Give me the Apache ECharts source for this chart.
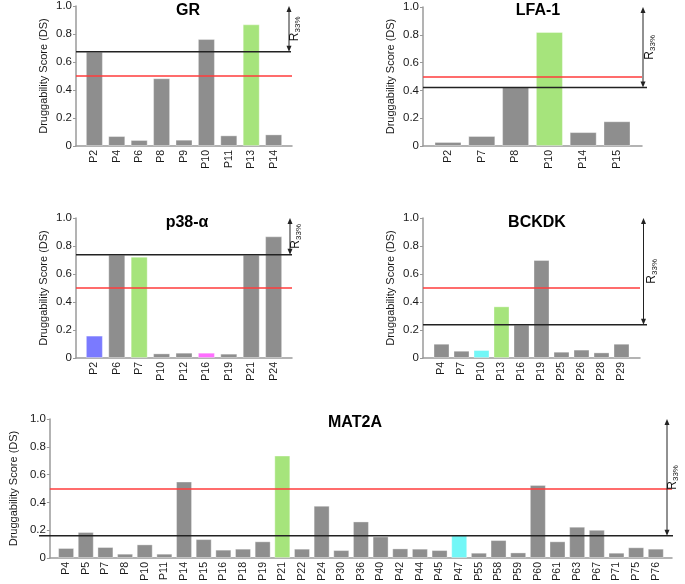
<!DOCTYPE html>
<html>
<head>
<meta charset="utf-8">
<script src="https://cdn.jsdelivr.net/npm/echarts@6/dist/echarts.min.js"></script>
<style>
html,body{margin:0;padding:0;background:#fff;}
#chart{width:685px;height:584px;}
</style>
</head>
<body>
<div id="chart"></div>
<script>
// ---------- data ----------
const grCats = ['P2','P4','P6','P8','P9','P10','P11','P13','P14'];
const grVals = [0.674,0.071,0.043,0.484,0.045,0.764,0.076,0.869,0.083];
const grR33 = 0.674;

const lfaCats = ['P2','P7','P8','P10','P14','P15'];
const lfaVals = [0.029,0.072,0.424,0.82,0.10,0.178];
const lfaR33 = 0.42;

const p38Cats = ['P2','P6','P7','P10','P12','P16','P19','P21','P24'];
const p38Vals = [0.16,0.738,0.724,0.033,0.038,0.038,0.031,0.738,0.869];
const p38R33 = 0.738;

const bckCats = ['P4','P7','P10','P13','P16','P19','P25','P26','P28','P29'];
const bckVals = [0.102,0.052,0.057,0.369,0.238,0.70,0.045,0.06,0.04,0.102];
const bckR33 = 0.238;

const matCats = ['P4','P5','P7','P8','P10','P11','P14','P15','P16','P18','P19','P21','P22','P24','P30',
  'P36','P40','P42','P44','P45','P47','P55','P58','P59','P60','P61','P63','P67','P71','P75','P76'];
const matVals = [0.072,0.187,0.079,0.031,0.098,0.031,0.55,0.136,0.06,0.067,0.12,0.737,0.067,0.376,0.057,
  0.263,0.155,0.069,0.067,0.057,0.167,0.038,0.129,0.04,0.526,0.12,0.225,0.203,0.038,0.077,0.067];
const matR33 = 0.16;

const yTicks = [0, 0.2, 0.4, 0.6, 0.8, 1.0];
const druggableThreshold = 0.5;

// ---------- styles / layout ----------
const COLORS = {grey:'#8e8e8e', green:'#a6e47c', blue:'#7a7aff', magenta:'#ff6eff', cyan:'#72f7f7'};
const highlight = {
  GR: {P13:'green'},
  LFA: {P10:'green'},
  P38: {P2:'blue', P7:'green', P16:'magenta'},
  BCK: {P10:'cyan', P13:'green'},
  MAT: {P21:'green', P47:'cyan'}
};
const FONT = "'Liberation Sans', Arial, sans-serif";

const panels = [
  {key:'GR',  title:'GR',     cats:grCats,  vals:grVals,  r33:grR33,  g:{left:76, top:6,   width:216, height:140}, pad:0.32, bw:0.76, tx:183, ty:-2,  arrowDx:-3, lineExt:-1, textDx:6},
  {key:'LFA', title:'LFA-1',  cats:lfaCats, vals:lfaVals, r33:lfaR33, g:{left:423,top:7,   width:219, height:139}, pad:0.24, bw:0.80, tx:533, ty:-2,  arrowDx:1,  lineExt:5,  textDx:7},
  {key:'P38', title:'p38-α',  cats:p38Cats, vals:p38Vals, r33:p38R33, g:{left:76, top:218, width:216, height:140}, pad:0.32, bw:0.76, tx:182, ty:210, arrowDx:-2, lineExt:0,  textDx:6},
  {key:'BCK', title:'BCKDK',  cats:bckCats, vals:bckVals, r33:bckR33, g:{left:423,top:218, width:217, height:140}, pad:0.425,bw:0.80, tx:532, ty:210, arrowDx:3.5,lineExt:7,  textDx:8},
  {key:'MAT', title:'MAT2A',  cats:matCats, vals:matVals, r33:matR33, g:{left:39, top:419, width:633, height:139}, pad:0.325,bw:0.80, tx:350, ty:410, arrowDx:-5, lineExt:1,  textDx:6}
];

const grids = [], xAxes = [], yAxes = [], series = [], titles = [];
panels.forEach((p, i) => {
  const n = p.cats.length;
  const xmin = -0.5 - p.pad, xmax = n - 0.5 + p.pad;
  const bandPx = p.g.width / (xmax - xmin);
  grids.push({left:p.g.left, top:p.g.top, width:p.g.width, height:p.g.height, containLabel:false});
  xAxes.push({
    type:'value', gridIndex:i, min:xmin, max:xmax,
    axisLine:{show:true, onZero:false, lineStyle:{color:'#9a9a9a', width:1.5}},
    axisTick:{show:false},
    splitLine:{show:false},
    axisLabel:{
      customValues: p.cats.map((c, k) => k),
      formatter: v => p.cats[Math.round(v)] || '',
      rotate:90, margin:4, fontSize:10.5, color:'#1a1a1a', fontFamily:FONT
    }
  });
  yAxes.push({
    type:'value', gridIndex:i, min:0, max:1, interval:0.2,
    name:'Druggability Score (DS)', nameLocation:'middle', nameGap:27,
    nameTextStyle:{fontSize:11, color:'#1a1a1a', fontFamily:FONT},
    axisLine:{show:true, onZero:false, lineStyle:{color:'#9a9a9a', width:1.5}},
    axisTick:{show:true, length:3, lineStyle:{color:'#9a9a9a'}},
    splitLine:{show:false},
    axisLabel:{
      customValues: yTicks,
      formatter: v => (v === 0 ? '0' : v.toFixed(1)),
      margin:4, fontSize:11.5, color:'#1a1a1a', fontFamily:FONT
    }
  });
  series.push({
    type:'bar', xAxisIndex:i, yAxisIndex:i,
    barWidth: bandPx * p.bw,
    data: p.vals.map((v, k) => ({
      value:[k, v],
      itemStyle:{color: COLORS[(highlight[p.key] || {})[p.cats[k]] || 'grey'], borderColor:'rgba(255,255,255,0.35)', borderWidth:1}
    })),
    markLine:{
      silent:true, symbol:'none', label:{show:false}, animation:false,
      lineStyle:{color:'#ff3b3b', width:1.5, type:'solid'},
      data:[{yAxis:druggableThreshold}]
    },
    animation:false
  });
  titles.push({
    text:p.title, left:p.tx, top:p.ty, textAlign:'center',
    textStyle:{fontSize:16, fontWeight:'bold', color:'#000', fontFamily:FONT}
  });
});

const chart = echarts.init(document.getElementById('chart'), null, {renderer:'canvas'});
chart.setOption({
  backgroundColor:'#fff',
  animation:false,
  title:titles,
  grid:grids,
  xAxis:xAxes,
  yAxis:yAxes,
  series:series
});

// R33% annotations, positioned through the axes' scales
const gfx = [];
panels.forEach((p, i) => {
  const f = {xAxisIndex:i, yAxisIndex:i};
  const yTop = chart.convertToPixel(f, [0, 1.0])[1];
  const yR = chart.convertToPixel(f, [0, p.r33])[1];
  const xr = p.g.left + p.g.width;
  const ax = xr + p.arrowDx;
  gfx.push({type:'line', silent:true, shape:{x1:p.g.left, y1:yR, x2:xr + p.lineExt, y2:yR}, style:{stroke:'#222', lineWidth:1.5}, z:10});
  gfx.push({type:'line', silent:true, shape:{x1:ax, y1:yTop + 3, x2:ax, y2:yR - 3}, style:{stroke:'#222', lineWidth:1}, z:10});
  gfx.push({type:'polygon', silent:true, shape:{points:[[ax, yTop],[ax-2.5, yTop+6],[ax+2.5, yTop+6]]}, style:{fill:'#222'}, z:10});
  gfx.push({type:'polygon', silent:true, shape:{points:[[ax, yR],[ax-2.5, yR-6],[ax+2.5, yR-6]]}, style:{fill:'#222'}, z:10});
  gfx.push({
    type:'text', silent:true, x: ax + p.textDx, y:(yTop + yR) / 2, rotation:Math.PI/2, z:10,
    style:{
      text:'{r|R}{s|33%}', align:'center', verticalAlign:'middle',
      rich:{
        r:{fontSize:12, fontFamily:FONT, fill:'#111', lineHeight:14, verticalAlign:'middle'},
        s:{fontSize:8, fontFamily:FONT, fill:'#111', lineHeight:14, verticalAlign:'bottom', padding:[4,0,0,0]}
      }
    }
  });
});
chart.setOption({graphic: gfx});
</script>
</body>
</html>
